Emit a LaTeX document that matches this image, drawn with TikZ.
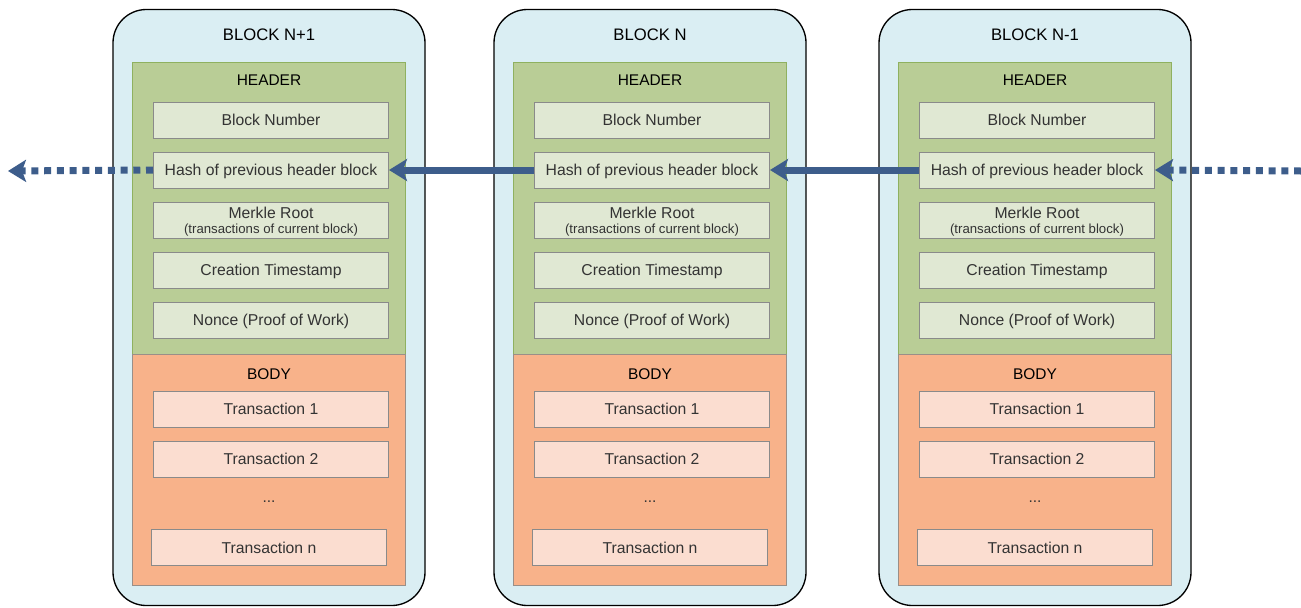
\documentclass[tikz,border=0pt]{standalone}
\usepackage{fontspec}
\setmainfont{Liberation Sans}
\usetikzlibrary{arrows.meta}

\definecolor{blockfill}{HTML}{DAEEF3}
\definecolor{headfill}{HTML}{B9CD96}
\definecolor{headdraw}{HTML}{8FB160}
\definecolor{itemfill}{HTML}{E0E8D3}
\definecolor{itemdraw}{HTML}{8A8A8A}
\definecolor{bodyfill}{HTML}{F8B28A}
\definecolor{bodydraw}{HTML}{9A8F88}
\definecolor{txfill}{HTML}{FBDDD0}
\definecolor{textgray}{HTML}{333333}
\definecolor{arrowblue}{HTML}{3D5D8B}

\tikzset{every picture/.style={line width=0.75pt}}

\begin{document}
\begin{tikzpicture}[x=0.75pt,y=0.75pt,yscale=-1,xscale=1,
	blockbox/.style={draw=black,line width=1pt,fill=blockfill,rounded corners=25pt,minimum width=234pt,minimum height=447pt,inner sep=0pt},
	headerbox/.style={draw=headdraw,fill=headfill,minimum width=204.75pt,minimum height=219pt,inner sep=0pt},
	bodybox/.style={draw=bodydraw,fill=bodyfill,minimum width=204.75pt,minimum height=173.25pt,inner sep=0pt},
	fieldbox/.style={draw=itemdraw,fill=itemfill,minimum width=176.25pt,minimum height=27pt,inner sep=0pt,text=textgray,font=\fontsize{11.8}{14}\selectfont,text height=8.45pt,text depth=0pt},
	txbox/.style={fieldbox,fill=txfill},
	caption/.style={inner sep=0pt,font=\fontsize{12.5}{15}\selectfont},
	partlabel/.style={inner sep=0pt,font=\fontsize{11.6}{14}\selectfont},
	chainlink/.style={draw=arrowblue,line width=5.25pt,-{Stealth[length=13.5pt,width=16.5pt,inset=3pt]}},
	chaindots/.style={chainlink,dash pattern=on 5.25pt off 4.3pt}
	]
	\useasboundingbox (0,0) rectangle (1301,607);
	
	% the three blocks
	\foreach \cx/\name/\i in {269/N+1/1,650/N/2,1035/N-1/3}{
		\node[blockbox] (blk\i) at (\cx,307.5) {};
		\node[caption] (title\i) at (\cx,35) {BLOCK \name};
		% header
		\node[headerbox] (head\i) at (\cx,208) {};
		\node[partlabel] (headlbl\i) at (\cx,80.5) {HEADER};
		\node[fieldbox] (num\i) at (\cx+2,120) {Block Number};
		\node[fieldbox] (hash\i) at (\cx+2,170) {Hash of previous header block};
		\node[fieldbox,text height=,text depth=,align=center] (merkle\i) at (\cx+2,220) {\rule{0pt}{11.4pt}Merkle Root\\[-2.75pt]\fontsize{9.9}{14}\selectfont (transactions of current block)};
		\node[fieldbox] (stamp\i) at (\cx+2,270) {Creation Timestamp};
		\node[fieldbox] (nonce\i) at (\cx+2,320) {Nonce (Proof of Work)};
		% body
		\node[bodybox] (body\i) at (\cx,469.5) {};
		\node[partlabel] (bodylbl\i) at (\cx,374) {BODY};
		\node[txbox] (txa\i) at (\cx+2,409) {Transaction 1};
		\node[txbox] (txb\i) at (\cx+2,459) {Transaction 2};
		\node[partlabel,text=textgray] (dots\i) at (\cx,502) {...};
		\node[txbox] (txn\i) at (\cx,547.5) {Transaction n};
	}
	
	% chain of hashes
	\coordinate (farleft) at (8,171);
	\coordinate (farright) at (1301,171);
	\draw[chaindots] (hash1.west) -- (farleft);
	\draw[chainlink] (hash2.west) -- (hash1.east);
	\draw[chainlink] (hash3.west) -- (hash2.east);
	\draw[chaindots] (farright) -- (hash3.east);
	
\end{tikzpicture}
\end{document}
